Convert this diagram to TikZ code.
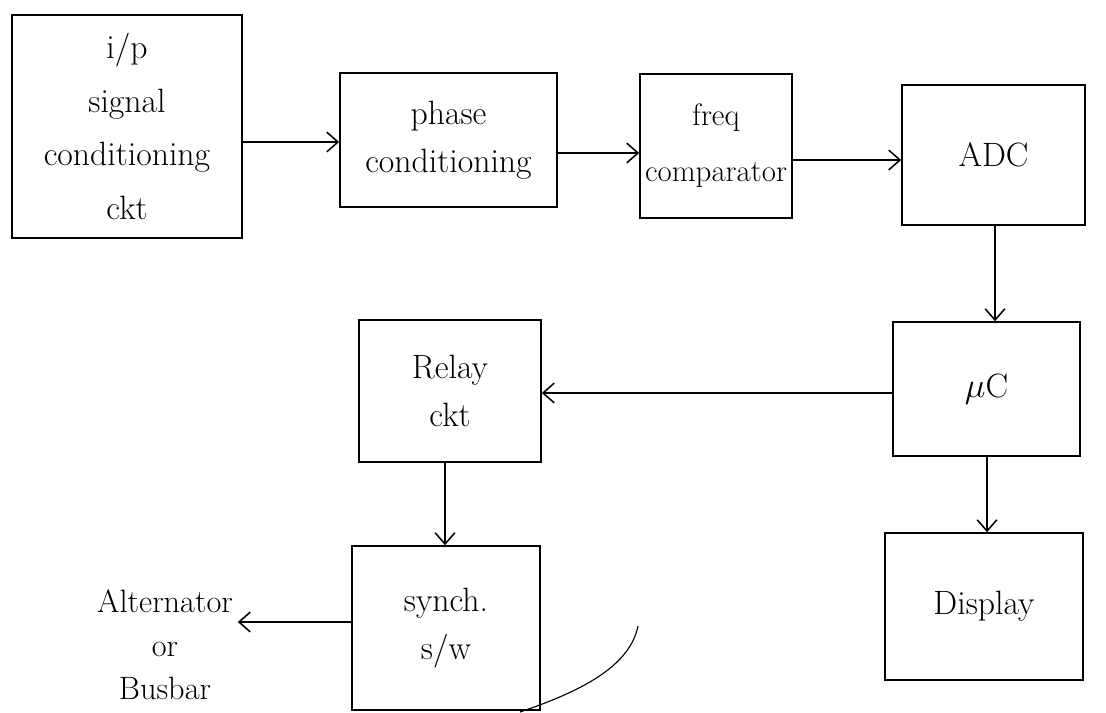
\documentclass[tikz,border=0pt]{standalone}
\usetikzlibrary{arrows.meta}

\begin{document}
\begin{tikzpicture}[x=0.025cm,y=-0.025cm,
  blk/.style={draw,line width=1.1pt,align=center,inner sep=0pt,
    font=\fontsize{24}{34}\selectfont},
  arr/.style={-{Straight Barb[length=8pt,width=14pt]},line width=1.1pt},
  lbl/.style={align=center,font=\fontsize{23}{31}\selectfont}]
  \useasboundingbox (0,0) rectangle (1106,712);
  % top row
  \node[blk,minimum width=5.75cm,minimum height=5.575cm,
    font=\fontsize{24}{38}\selectfont] (inp) at (127,126.5)
    {i/p\\signal\\conditioning\\ckt};
  \node[blk,minimum width=5.425cm,minimum height=3.35cm] (phase) at (448.5,140)
    {phase\\conditioning};
  \node[blk,minimum width=3.8cm,minimum height=3.6cm,
    font=\fontsize{22}{40}\selectfont] (freq) at (716,146)
    {freq\\comparator};
  \node[blk,minimum width=4.575cm,minimum height=3.5cm] (adc) at (993.5,155) {ADC};
  % middle row
  \node[blk,minimum width=4.675cm,minimum height=3.35cm] (mc) at (986.5,389) {$\mu$C};
  \node[blk,minimum width=4.55cm,minimum height=3.55cm] (relay) at (450,391)
    {Relay\\ckt};
  % bottom row
  \node[blk,minimum width=4.95cm,minimum height=3.675cm] (disp) at (984,606.5) {Display};
  \node[blk,minimum width=4.7cm,minimum height=4.1cm] (synch) at (446,628)
    {synch.\\s/w};
  \node[lbl] (alt) at (165,645) {Alternator\\or\\Busbar};
  % connectors
  \draw[arr] (inp.east |- 0,142) -- (phase.west |- 0,142);
  \draw[arr] (phase.east |- 0,153) -- (freq.west |- 0,153);
  \draw[arr] (freq.east |- 0,160) -- (adc.west |- 0,160);
  \draw[arr] (adc.south -| 995,0) -- (mc.north -| 995,0);
  \draw[arr] (mc.west |- 0,393) -- (relay.east |- 0,393);
  \draw[arr] (mc.south -| 987,0) -- (disp.north -| 987,0);
  \draw[arr] (relay.south -| 445,0) -- (synch.north -| 445,0);
  \draw[arr] (synch.west |- 0,622) -- (alt.east |- 0,622);
  % stray pen mark
  \draw[line width=0.8pt] (638,626) .. controls (630,665) and (585,690) .. (520,712);
\end{tikzpicture}
\end{document}
